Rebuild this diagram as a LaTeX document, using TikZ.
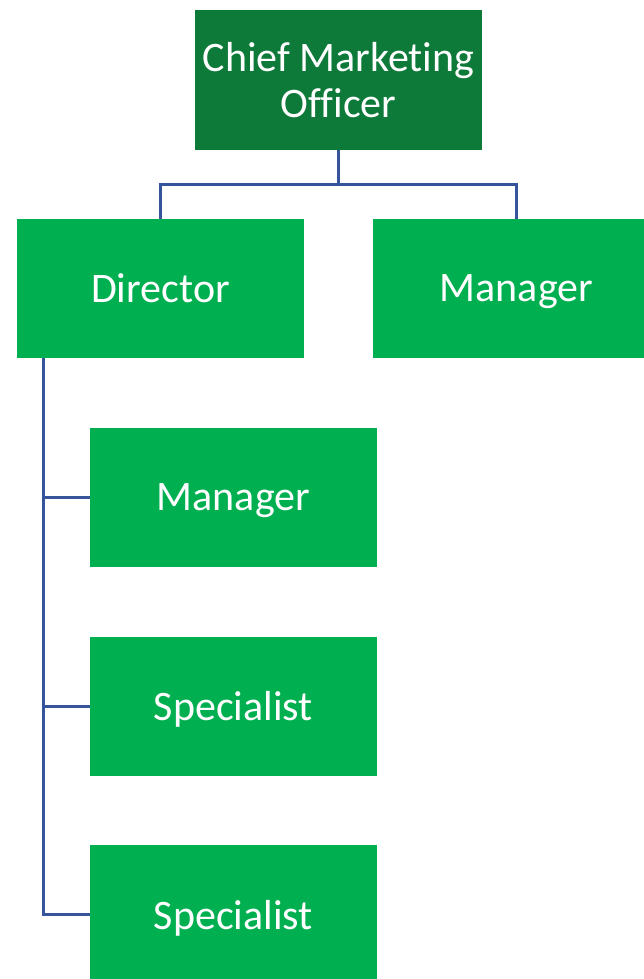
\documentclass[tikz,border=0pt]{standalone}
\usepackage{xcolor}
\usepackage{fontspec}
\setmainfont[Ligatures=NoCommon]{Carlito}
\definecolor{chiefgreen}{RGB}{14,122,58}
\definecolor{staffgreen}{RGB}{0,176,80}
\definecolor{linkblue}{RGB}{52,85,155}

\begin{document}
\begin{tikzpicture}[x=1pt, y=-1pt,
	role/.style={rectangle, fill=staffgreen, text=white, minimum width=287pt, minimum height=139pt, inner sep=0pt, align=center, text depth=0pt, font=\fontsize{42}{46}\selectfont},
	link/.style={draw=linkblue, line width=3pt}]
	\useasboundingbox (0,0) rectangle (644,979);

	% Define the nodes with specific positions
	\node[role, fill=chiefgreen] (CMO) at (338.5, 80) {Chief Marketing\\Officer};

	\node[role] (D) at (160.5, 288.5) {Director};
	\node[role] (M1) at (516.5, 288.5) {Manager};

	\node[role] (M2) at (233.5, 497.5) {Manager};
	\node[role] (S1) at (233.5, 706) {Specialist};
	\node[role] (S2) at (233.5, 914.5) {Specialist};

	% Draw the connectors between nodes
	\coordinate (J) at (338.5, 184);
	\coordinate (spine) at (43, 358);
	\draw[link] (CMO.south) -- (J);
	\draw[link] (J) -| (D.north);
	\draw[link] (J) -| (M1.north);
	\draw[link] (spine) |- (S2.west);
	\draw[link] (spine |- M2.west) -- (M2.west);
	\draw[link] (spine |- S1.west) -- (S1.west);
\end{tikzpicture}
\end{document}
